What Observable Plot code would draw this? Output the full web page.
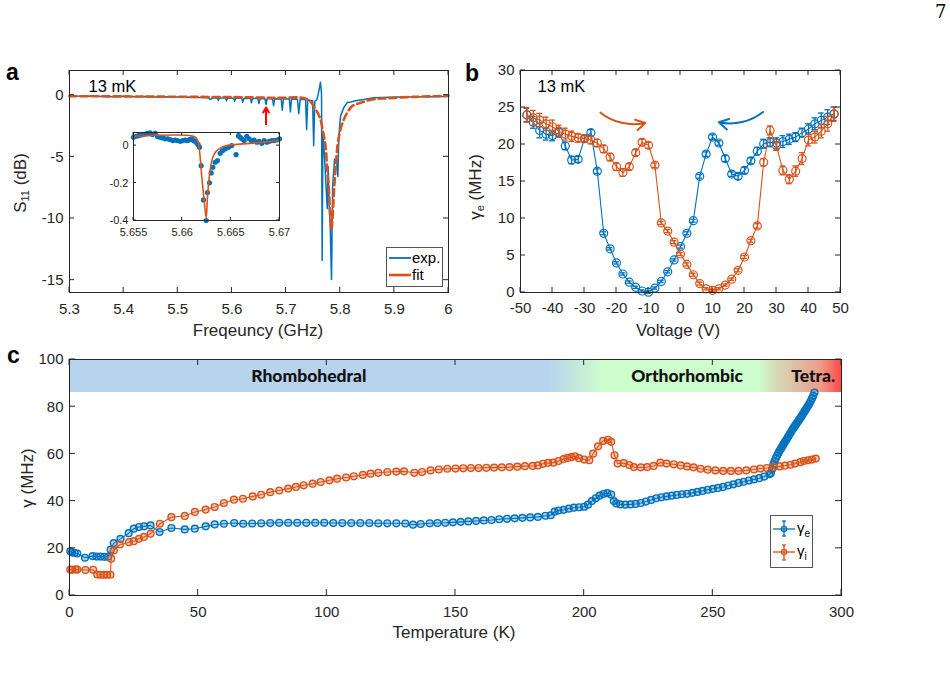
<!DOCTYPE html>
<html><head><meta charset="utf-8">
<script src="https://cdn.jsdelivr.net/npm/d3@7"></script>
<script src="https://cdn.jsdelivr.net/npm/@observablehq/plot@0.6"></script>
<style>
body{margin:0;background:#fff;}
#fig{position:relative;width:950px;height:678px;overflow:hidden;font-family:"Liberation Sans",Arial,Helvetica,sans-serif;color:#262626;}
.t{position:absolute;white-space:nowrap;line-height:1;}
.rot{transform:translate(-50%,-50%) rotate(-90deg);}
.ctr{transform:translate(-50%,-50%);}
.letter{font-weight:bold;font-size:23px;color:#000;}
</style></head>
<body><div id="fig"></div>
<script>
// ---------------- DATA ----------------
// Panel a: S11 vs frequency (GHz), main trace
const expFreq = [5.300,5.320,5.340,5.360,5.380,5.400,5.420,5.440,5.460,5.480,5.500,5.520,5.540,5.555,5.560,5.565,5.573,5.575,5.577,5.588,5.590,5.592,5.603,5.605,5.607,5.618,5.620,5.622,5.634,5.636,5.638,5.648,5.650,5.652,5.661,5.663,5.665,5.675,5.677,5.679,5.691,5.693,5.695,5.706,5.708,5.710,5.721,5.7235,5.726,5.736,5.738,5.740,5.749,5.751,5.753,5.757,5.760,5.7636,5.7655,5.7667,5.7680,5.7710,5.7740,5.7760,5.7778,5.7795,5.7815,5.7839,5.7860,5.7895,5.7930,5.7956,5.7975,5.8006,5.8067,5.8129,5.8200,5.8283,5.8436,5.8620,5.9050,5.9670,6.0000];
const expS11 = [-0.05,-0.08,-0.06,-0.10,-0.12,-0.09,-0.12,-0.11,-0.14,-0.13,-0.15,-0.17,-0.18,-0.20,-0.35,-0.21,-0.22,-0.42,-0.23,-0.23,-0.45,-0.24,-0.25,-0.50,-0.25,-0.26,-0.58,-0.27,-0.27,-0.62,-0.28,-0.28,-0.68,-0.28,-0.29,-0.75,-0.29,-0.30,-0.85,-0.30,-0.31,-1.22,-0.31,-0.32,-1.35,-0.32,-0.33,-1.50,-0.34,-0.35,-2.80,-0.40,-0.45,-4.10,-0.50,-0.35,0.20,1.05,0.10,-13.4,-3.0,-5.0,-7.5,-9.2,-5.8,-8.8,-10.5,-14.95,-7.4,-5.2,-5.1,-6.6,-3.3,-1.7,-1.0,-0.6,-0.55,-0.45,-0.35,-0.21,-0.15,-0.12,-0.10];
const fitFreq = [5.300,5.400,5.500,5.600,5.680,5.7391,5.7544,5.7623,5.7686,5.7729,5.7760,5.7790,5.7820,5.7839,5.7870,5.7895,5.7932,5.7956,5.8006,5.8067,5.8129,5.8220,5.8376,5.8620,5.8870,5.9360,6.0000];
const fitS11 = [-0.08,-0.10,-0.13,-0.16,-0.22,-0.33,-1.14,-1.81,-3.03,-4.11,-6.0,-7.6,-10.1,-10.9,-9.0,-7.1,-4.95,-3.87,-2.78,-1.97,-1.43,-0.89,-0.62,-0.33,-0.25,-0.14,-0.05];
const aXTicks = [5.3,5.4,5.5,5.6,5.7,5.8,5.9,6];
const aYTicks = [0,-5,-10,-15];
const markerFreq = [5.663];      // red arrow: resonance shown in inset
const markerFrom = [-2.38], markerTo = [-1.0];
// Inset
const insetDotFreq = [5.65500,5.65527,5.65551,5.65575,5.65596,5.65620,5.65647,5.65671,5.65695,5.65723,5.65747,5.65774,5.65801,5.65825,5.65853,5.65877,5.65904,5.65928,5.65952,5.65980,5.66007,5.66031,5.66055,5.66075,5.66099,5.66116,5.66134,5.66151,5.66164,5.66178,5.66195,5.66219,5.66247,5.66260,5.66281,5.66298,5.66315,5.66339,5.66363,5.66390,5.66414,5.66442,5.66476,5.66510,5.66554,5.66579,5.66596,5.66613,5.66637,5.66664,5.66688,5.66715,5.66740,5.66767,5.66791,5.66818,5.66843,5.66870,5.66894,5.66921,5.66945,5.66973,5.67000];
const insetDotS11 = [0.044,0.050,0.053,0.057,0.059,0.062,0.066,0.068,0.059,0.066,0.048,0.044,0.041,0.036,0.036,0.032,0.027,0.030,0.027,0.023,0.027,0.030,0.027,0.032,0.036,0.027,0.023,0.014,0.005,-0.009,-0.107,-0.290,-0.400,-0.251,-0.199,-0.146,-0.116,-0.089,-0.080,-0.041,-0.027,-0.018,-0.009,0.0,-0.048,0.053,0.044,0.036,0.027,0.050,0.036,0.023,0.030,0.018,0.023,0.012,0.027,0.018,0.023,0.027,0.027,0.030,0.036];
const insetFitFreq = [5.65500,5.66116,5.66151,5.66168,5.66185,5.66202,5.66226,5.66247,5.66260,5.66278,5.66298,5.66322,5.66356,5.66425,5.66527,5.66698,5.67000];
const insetFitS11 = [0.050,0.050,0.036,0.009,-0.062,-0.169,-0.293,-0.386,-0.276,-0.169,-0.098,-0.053,-0.027,-0.005,0.005,0.012,0.027];
const insetXTicks = [5.655,5.66,5.665,5.67];
const insetYTicks = [0,-0.2,-0.4];

// Panel b: gamma_e vs voltage
const voltage = [-48,-46,-44,-42,-40,-38,-36,-34,-32,-30,-28,-26,-24,-22,-20,-18,-16,-14,-12,-10,-8,-6,-4,-2,0,2,4,6,8,10,12,14,16,18,20,22,24,26,28,30,32,34,36,38,40,42,44,46,48];
const gammaDown = [24.0,23.0,21.9,21.4,21.2,21.6,19.8,17.9,18.0,20.8,21.6,16.4,8.0,5.9,4.0,2.5,1.4,0.7,0.2,0.05,0.6,1.5,2.8,4.4,6.2,8.0,9.7,15.7,18.7,21.0,20.2,18.1,16.0,15.7,16.5,17.8,19.1,20.1,20.3,20.2,20.4,20.7,21.0,21.6,22.1,22.8,23.25,23.7,24.15];
const errDown = [0.9,0.8,1.0,0.8,0.7,0.6,0.5,0.5,0.4,0.4,0.4,0.3,0.2,0.15,0.15,0.15,0.15,0.15,0.15,0.15,0.15,0.15,0.15,0.15,0.2,0.2,0.2,0.25,0.3,0.3,0.3,0.4,0.3,0.4,0.4,0.4,0.5,0.6,0.6,0.7,0.8,0.7,0.6,0.6,0.7,0.8,1.0,1.0,0.9];
const gammaUp = [24.0,23.6,23.3,22.8,22.4,21.8,21.4,21.1,20.9,20.8,20.6,20.2,19.4,18.3,17.0,16.2,17.0,18.9,20.3,19.9,17.2,9.4,8.3,6.8,5.2,3.8,2.4,1.2,0.5,0.3,0.5,1.0,1.8,3.0,4.8,7.0,9.0,17.6,21.9,19.8,16.5,15.3,16.4,18.1,20.6,21.0,21.8,22.8,24.1];
const errUp = [1.0,1.0,0.9,0.9,0.9,0.8,0.8,0.7,0.6,0.5,0.5,0.5,0.5,0.5,0.5,0.5,0.4,0.4,0.4,0.4,0.3,0.2,0.2,0.2,0.2,0.2,0.2,0.2,0.15,0.15,0.15,0.15,0.15,0.2,0.2,0.2,0.3,0.5,0.6,0.6,0.6,0.6,0.7,0.8,0.8,0.8,0.9,1.0,1.0];
const bXTicks = [-50,-40,-30,-20,-10,0,10,20,30,40,50];
const bYTicks = [0,5,10,15,20,25,30];
// sweep-direction arrows: [up-sweep (orange), down-sweep (blue)]
const sweepV1 = [-25, 25.8], sweepG1 = [24.3, 24.4], sweepV2 = [-11, 12], sweepG2 = [22.9, 23.0];

// Panel c: gamma vs temperature
const tempE = [0.3,1,2,3,6,9,10.5,12,13.5,15,16,17.2,19.8,23,25,27,29,31.5,35,39.6,44.8,48.7,52.9,56.4,60,64,67.5,71,74.5,78,81.5,85,88.5,92,95.5,99,102.5,106,109.5,113,116.5,120,123.5,127,130.5,133.5,136.5,140,143,146,149,152,155,158,161,164,167,170,173,176,179,182,185,187,188.5,190,192,194,196,198,200,201.5,203,204.5,206,207.5,209,210.5,211.5,212.5,214,216,218,220,222,224,226,228,230,232,234,236,238,240,242,244,246,248,250,252,254,256,258,260,262,264,266,268,270,272,272.5,273,273.5,274,274.5,275,275.5,276,276.5,277,277.5,278,278.5,279,279.5,280,280.5,281,281.5,282,282.5,283,283.5,284,284.5,285,285.5,286,286.5,287,287.5,288,288.5,289,289.5];
const gammaE = [18.7,18.3,18.0,17.8,16.0,16.7,16.5,16.5,16.4,16.4,19.4,22.2,24.0,26.4,28.3,29.0,29.3,29.7,26.9,28.6,28.0,28.3,29.3,30.1,30.4,30.7,30.4,30.5,30.6,30.7,30.8,30.8,30.8,30.8,30.8,30.8,30.7,30.7,30.7,30.7,30.7,30.6,30.6,30.6,30.5,30.0,30.3,30.6,30.7,30.8,31.0,31.2,31.4,31.6,31.8,32.0,32.3,32.5,32.7,32.9,33.1,33.3,33.8,34.0,35.5,36.0,36.3,36.8,37.2,37.4,37.6,38.5,40.0,41.2,42.3,43.0,43.4,42.8,40.0,39.0,38.6,38.5,38.6,38.8,39.2,39.8,40.5,41.2,41.6,42.0,42.3,42.6,42.9,43.1,43.5,43.9,44.3,44.8,45.2,45.6,46.0,46.6,47.1,47.7,48.2,48.7,49.2,49.7,50.4,51.4,51.8,53.5,55.5,57.0,58.2,59.3,60.4,61.4,62.3,63.2,64.1,65.0,65.9,66.8,67.7,68.6,69.5,70.4,71.2,72.0,72.8,73.6,74.4,75.2,76.0,76.9,77.8,78.6,79.5,80.4,81.3,82.3,83.4,84.6,86.0];
const tempI = [0.3,1,2.3,3,6.2,9.2,10.8,12,13.3,14.6,15.9,16.2,17.2,19.6,23.1,25,27,28.9,31.5,35.1,39.6,44.8,48.7,52.9,56.4,60,63.9,67.4,71.2,74.5,78,81.5,85,88,91,94.5,97.6,101,104,107.5,110.5,114,117,120,123.5,127,130,134,137,140.3,143.5,146.8,150,153,156,159,162,165,168,171,174,177,180,182,184,186,188,190,192,193.5,195,196.5,198,200,202,203.5,205.4,207.4,209.2,210.5,211.8,213,215.4,217.5,219.3,222,224.5,227,229.6,232,234.8,237.5,240,242.5,245.2,248,251,254,257,260,263,266,268.5,271,273.7,276,278,280.2,282,284,285.4,287,288.5,290];
const gammaI = [11.0,10.9,11.1,11.0,10.8,10.9,8.9,8.8,8.8,8.8,8.8,15.6,19.1,21.6,22.6,23.0,24.0,24.8,26.2,30.4,33.2,33.7,35.4,36.4,37.5,39.2,40.6,41.0,42.0,42.7,43.8,44.5,45.3,46.0,46.7,47.4,48.1,48.8,49.5,50.0,50.5,51.1,51.6,52.0,52.3,52.5,52.6,52.0,52.3,53.0,53.4,53.7,53.8,53.9,54.0,54.0,54.1,54.2,54.3,54.4,54.6,54.8,54.9,55.1,55.8,56.2,56.3,57.0,57.8,58.3,58.6,59.0,58.2,57.6,57.3,60.1,63.2,65.5,66.0,65.1,59.4,55.9,56.1,55.3,54.4,54.3,54.4,54.9,56.3,55.9,55.6,55.1,54.7,54.3,53.7,53.3,53.0,52.8,52.8,52.8,53.0,53.4,53.8,54.0,54.4,54.7,55.0,55.4,55.9,56.5,57.0,57.3,57.6,58.0];
const cXTicks = [0,50,100,150,200,250,300];
const cYTicks = [0,20,40,60,80,100];
const phaseBand = [{t1: 0, t2: 300, g1: 86, g2: 100}];
const phaseStopT = [0, 186, 207, 268, 276, 283, 292, 300];
const phaseStopColor = ["#b7d3ee","#b7d3ee","#cdfccd","#cdfccd","#d9d6b4","#dcbea2","#ee9c88","#ff4a4a"];
const phaseNames = ["Rhombohedral","Orthorhombic","Tetra."];
const phaseCenterT = [93, 240, 289];

// ---------------- DRAWING ----------------
const BLUE = "#0072BD", ORANGE = "#D95319", INK = "#262626";
const FONT = '"Liberation Sans", Arial, Helvetica, sans-serif';
const fig = document.getElementById("fig");
const fmt = d => String(d);

function put(el, left, top){ el.style.position = "absolute"; el.style.left = left + "px"; el.style.top = top + "px"; fig.appendChild(el); return el; }
function text(html, cx, cy, cls, size){ const d = document.createElement("div"); d.className = "t " + cls; d.innerHTML = html; if (size) d.style.fontSize = size + "px"; put(d, cx, cy); return d; }
function inward(chart, xt, yt, len){
  const sx = chart.scale("x"), sy = chart.scale("y");
  const [xa, xb] = sx.range, [ya, yb] = sy.range;
  const g = d3.select(chart).append("g").attr("stroke", INK).attr("stroke-width", 1);
  for (const t of xt){ const x = sx.apply(t);
    g.append("line").attr("x1", x).attr("x2", x).attr("y1", ya).attr("y2", ya - len);
    g.append("line").attr("x1", x).attr("x2", x).attr("y1", yb).attr("y2", yb + len); }
  for (const t of yt){ const y = sy.apply(t);
    g.append("line").attr("y1", y).attr("y2", y).attr("x1", xa).attr("x2", xa + len);
    g.append("line").attr("y1", y).attr("y2", y).attr("x1", xb).attr("x2", xb - len); }
}
const zip = (xs, ys, kx, ky) => xs.map((x, i) => ({[kx]: x, [ky]: ys[i]}));
const baseStyle = {fontFamily: FONT, fontSize: "15px", color: INK, background: "transparent", overflow: "visible"};

// Panel a
const expData = zip(expFreq, expS11, "f", "s");
const fitData = zip(fitFreq, fitS11, "f", "s");
const arrowData = markerFreq.map((f, i) => ({f, s1: markerFrom[i], s2: markerTo[i]}));
const chartA = Plot.plot({
  width: 460, height: 290, marginLeft: 69, marginRight: 12, marginTop: 15, marginBottom: 53,
  style: baseStyle,
  x: {domain: [5.3, 6], label: null},
  y: {domain: [-16, 2], label: null},
  marks: [
    Plot.axisX(aXTicks, {tickSize: 0, tickPadding: 11, tickFormat: fmt, label: null}),
    Plot.axisY(aYTicks, {tickSize: 0, tickPadding: 6, tickFormat: fmt, label: null}),
    Plot.line(expData, {x: "f", y: "s", stroke: BLUE, strokeWidth: 1.5}),
    Plot.line(fitData, {x: "f", y: "s", stroke: ORANGE, strokeWidth: 2.6, strokeDasharray: "7,4", curve: "catmull-rom"}),
    Plot.arrow(arrowData, {x1: "f", x2: "f", y1: "s1", y2: "s2", stroke: "#ff0000", strokeWidth: 2, headLength: 7}),
    Plot.text(["13 mK"], {frameAnchor: "top-left", dx: 19, dy: 9.5, fontSize: 16.5, fill: "#000"}),
    Plot.frame({stroke: INK})
  ]
});
inward(chartA, aXTicks, aYTicks, 5);
put(chartA, 0, 55);

// Inset
const chartIn = Plot.plot({
  width: 195, height: 115, marginLeft: 38, marginRight: 11, marginTop: 7, marginBottom: 20,
  style: {...baseStyle, fontSize: "11px", background: "#fff"},
  x: {domain: [5.655, 5.67], label: null},
  y: {domain: [-0.4, 0.07], label: null},
  marks: [
    Plot.axisX(insetXTicks, {tickSize: 0, tickPadding: 8, tickFormat: fmt, label: null}),
    Plot.axisY(insetYTicks, {tickSize: 0, tickPadding: 5, tickFormat: fmt, label: null}),
    Plot.dot(zip(insetDotFreq, insetDotS11, "f", "s"), {x: "f", y: "s", r: 2.6, fill: BLUE, stroke: "none"}),
    Plot.line(zip(insetFitFreq, insetFitS11, "f", "s"), {x: "f", y: "s", stroke: ORANGE, strokeWidth: 1.6, curve: "catmull-rom"}),
    Plot.frame({stroke: INK})
  ]
});
inward(chartIn, insetXTicks, insetYTicks, 3);
put(chartIn, 95, 125);

// Panel b
const bDown = voltage.map((v, i) => ({v, g: gammaDown[i], e: errDown[i]}));
const bUp = voltage.map((v, i) => ({v, g: gammaUp[i], e: errUp[i]}));
const sweepUp = [{x1: sweepV1[0], y1: sweepG1[0], x2: sweepV2[0], y2: sweepG2[0]}];
const sweepDown = [{x1: sweepV1[1], y1: sweepG1[1], x2: sweepV2[1], y2: sweepG2[1]}];
function errMarks(data, color){
  return [
    Plot.ruleX(data, {x: "v", y1: d => d.g - d.e, y2: d => d.g + d.e, stroke: color, strokeWidth: 1.3}),
    Plot.ruleY(data, {y: d => d.g - d.e, x1: d => d.v - 0.9, x2: d => d.v + 0.9, stroke: color, strokeWidth: 1.3}),
    Plot.ruleY(data, {y: d => d.g + d.e, x1: d => d.v - 0.9, x2: d => d.v + 0.9, stroke: color, strokeWidth: 1.3}),
    Plot.line(data, {x: "v", y: "g", stroke: color, strokeWidth: 1.1}),
    Plot.dot(data, {x: "v", y: "g", r: 4, stroke: color, strokeWidth: 1.2, fill: "none"})
  ];
}
const chartB = Plot.plot({
  width: 400, height: 290, marginLeft: 60, marginRight: 20, marginTop: 15, marginBottom: 53,
  style: baseStyle,
  x: {domain: [-50, 50], label: null},
  y: {domain: [0, 30], label: null},
  marks: [
    Plot.axisX(bXTicks, {tickSize: 0, tickPadding: 10, tickFormat: fmt, label: null}),
    Plot.axisY(bYTicks, {tickSize: 0, tickPadding: 6, tickFormat: fmt, label: null}),
    ...errMarks(bDown, BLUE),
    ...errMarks(bUp, ORANGE),
    Plot.arrow(sweepUp, {x1: "x1", y1: "y1", x2: "x2", y2: "y2", bend: -25, stroke: ORANGE, strokeWidth: 2, headLength: 8}),
    Plot.arrow(sweepDown, {x1: "x1", y1: "y1", x2: "x2", y2: "y2", bend: 25, stroke: BLUE, strokeWidth: 2, headLength: 8}),
    Plot.text(["13 mK"], {frameAnchor: "top-left", dx: 17, dy: 9.5, fontSize: 16.5, fill: "#000"}),
    Plot.frame({stroke: INK})
  ]
});
inward(chartB, bXTicks, bYTicks, 5);
put(chartB, 460, 55);

// Panel c
const cE = zip(tempE, gammaE, "t", "g");
const cI = zip(tempI, gammaI, "t", "g");
const phaseLabels = phaseNames.map((n, i) => ({n, t: phaseCenterT[i]}));
const chartC = Plot.plot({
  width: 860, height: 310, marginLeft: 69, marginRight: 19, marginTop: 14, marginBottom: 60,
  style: baseStyle,
  x: {domain: [0, 300], label: null},
  y: {domain: [0, 100], label: null},
  marks: [
    Plot.rect(phaseBand, {x1: "t1", x2: "t2", y1: "g1", y2: "g2", fill: "url(#phaseGrad)"}),
    Plot.axisX(cXTicks, {tickSize: 0, tickPadding: 11, tickFormat: fmt, label: null}),
    Plot.axisY(cYTicks, {tickSize: 0, tickPadding: 6, tickFormat: fmt, label: null}),
    Plot.line(cE, {x: "t", y: "g", stroke: BLUE, strokeWidth: 1.1}),
    Plot.dot(cE, {x: "t", y: "g", r: 3.4, stroke: BLUE, strokeWidth: 1.4, fill: BLUE, fillOpacity: 0.3}),
    Plot.line(cI, {x: "t", y: "g", stroke: ORANGE, strokeWidth: 1.1}),
    Plot.dot(cI, {x: "t", y: "g", r: 3.4, stroke: ORANGE, strokeWidth: 1.4, fill: ORANGE, fillOpacity: 0.3}),
    Plot.text(phaseLabels, {x: "t", y: 93, text: "n", fontWeight: 900, fontSize: 17.5, fontFamily: "Lato, 'Open Sans', sans-serif", fill: "#111"}),
    Plot.frame({stroke: INK})
  ]
});
{
  const sx = chartC.scale("x");
  const grad = d3.select(chartC).insert("defs", ":first-child").append("linearGradient")
    .attr("id", "phaseGrad").attr("gradientUnits", "userSpaceOnUse")
    .attr("x1", sx.apply(0)).attr("x2", sx.apply(300)).attr("y1", 0).attr("y2", 0);
  phaseStopT.forEach((t, i) => grad.append("stop").attr("offset", t / 300).attr("stop-color", phaseStopColor[i]));
}
inward(chartC, cXTicks, cYTicks, 6);
put(chartC, 0, 345);

// ---------- text, legends ----------
text("a", 6, 61, "letter");
text("b", 465, 62, "letter");
text("c", 7, 344, "letter");
const pg = text("7", 935, 3, "", 18); pg.style.fontFamily = '"DejaVu Serif", "Liberation Serif", serif'; pg.style.color = "#000";

text('S<sub style="font-size:11px;vertical-align:-3px">11</sub>&nbsp;(dB)', 21, 183, "rot", 17);
text("Freqeuncy (GHz)", 258, 330, "ctr", 17);
text('γ<sub style="font-size:11px;vertical-align:-3px">e</sub>&nbsp;(MHz)', 476, 187, "rot", 17);
text("Voltage (V)", 678, 330, "ctr", 17);
text("γ (MHz)", 27, 478, "rot", 17);
text("Temperature (K)", 454, 632, "ctr", 17);

// legend a
const legA = document.createElement("div");
legA.innerHTML = `<svg width="58" height="41" style="overflow:visible">
 <rect x="0.5" y="0.5" width="56" height="39" fill="#fff" stroke="#555" stroke-width="1"/>
 <line x1="3" x2="25" y1="11" y2="11" stroke="${BLUE}" stroke-width="1.8"/>
 <line x1="3" x2="25" y1="28" y2="28" stroke="${ORANGE}" stroke-width="2.6"/>
 <text x="26" y="16" font-size="15" fill="#000" font-family='${FONT}'>exp.</text>
 <text x="26" y="33" font-size="15" fill="#000" font-family='${FONT}'>fit</text></svg>`;
put(legA, 386, 247);

// legend c
const legC = document.createElement("div");
legC.innerHTML = `<svg width="43" height="53" style="overflow:visible">
 <rect x="0.5" y="0.5" width="42" height="52" fill="#fff" stroke="#555" stroke-width="1"/>
 <g stroke="${BLUE}" stroke-width="1.3" fill="none">
  <line x1="3" x2="25" y1="14" y2="14"/><line x1="14" x2="14" y1="6" y2="21"/>
  <line x1="12" x2="16" y1="6" y2="6"/><line x1="12" x2="16" y1="21" y2="21"/><circle cx="14" cy="14" r="2.6"/></g>
 <g stroke="${ORANGE}" stroke-width="1.3" fill="none">
  <line x1="3" x2="25" y1="37" y2="37"/><line x1="14" x2="14" y1="30" y2="45"/>
  <line x1="12" x2="16" y1="30" y2="30"/><line x1="12" x2="16" y1="45" y2="45"/><circle cx="14" cy="37" r="2.6"/></g>
 <text x="27" y="18" font-size="15" fill="#000" font-family='${FONT}'>γ<tspan font-size="10" dy="4">e</tspan></text>
 <text x="27" y="41" font-size="15" fill="#000" font-family='${FONT}'>γ<tspan font-size="10" dy="4">i</tspan></text></svg>`;
put(legC, 770, 515);
</script></body></html>
